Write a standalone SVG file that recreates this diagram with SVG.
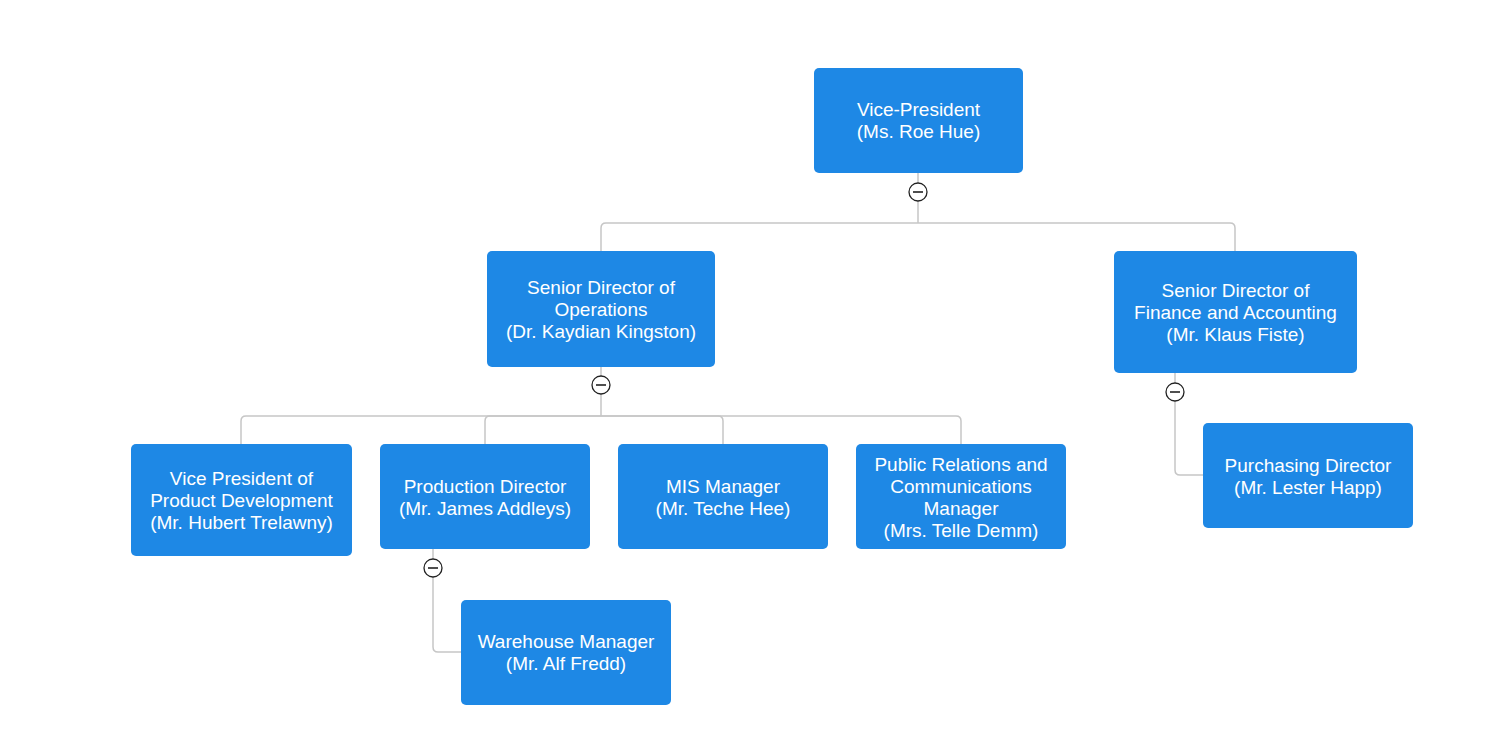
<svg xmlns="http://www.w3.org/2000/svg" width="1505" height="755" viewBox="0 0 1505 755">
<style>
.node rect{fill:#1e88e5;}
.node text{fill:#ffffff;font-family:"Liberation Sans",Arial,sans-serif;font-size:19px;text-anchor:middle;}
.conn path{fill:none;stroke:#c6c6c6;stroke-width:1.5;}
.tog circle{fill:#ffffff;stroke:#222222;stroke-width:1.3;}
.tog line{stroke:#222222;stroke-width:1.6;}
</style>
<rect width="1505" height="755" fill="#ffffff"/>
<g id="connectors" class="conn">
<path d="M918 173 V223"/>
<path d="M918 223 H606 Q601 223 601 228 V251"/>
<path d="M918 223 H1230 Q1235 223 1235 228 V251"/>
<path d="M601 367 V416"/>
<path d="M601 416 H246 Q241 416 241 421 V444"/>
<path d="M601 416 H490 Q485 416 485 421 V444"/>
<path d="M601 416 H718 Q723 416 723 421 V444"/>
<path d="M601 416 H956 Q961 416 961 421 V444"/>
<path d="M433 549 V647 Q433 652 438 652 H461"/>
<path d="M1175 373 V470 Q1175 475 1180 475 H1203"/>
</g>
<g id="toggles" class="tog">
<g><circle cx="918" cy="192" r="9"/><line x1="913" y1="192" x2="923" y2="192"/></g>
<g><circle cx="601" cy="385" r="9"/><line x1="596" y1="385" x2="606" y2="385"/></g>
<g><circle cx="433" cy="568" r="9"/><line x1="428" y1="568" x2="438" y2="568"/></g>
<g><circle cx="1175" cy="392" r="9"/><line x1="1170" y1="392" x2="1180" y2="392"/></g>
</g>
<g id="n-vp" class="node"><rect x="814" y="68" width="209" height="105" rx="5"/><text x="918.5" y="116">Vice-President</text><text x="918.5" y="138">(Ms. Roe Hue)</text></g>
<g id="n-ops" class="node"><rect x="487" y="251" width="228" height="116" rx="5"/><text x="601" y="294">Senior Director of</text><text x="601" y="316">Operations</text><text x="601" y="338">(Dr. Kaydian Kingston)</text></g>
<g id="n-fin" class="node"><rect x="1114" y="251" width="243" height="122" rx="5"/><text x="1235.5" y="297">Senior Director of</text><text x="1235.5" y="319">Finance and Accounting</text><text x="1235.5" y="341">(Mr. Klaus Fiste)</text></g>
<g id="n-vppd" class="node"><rect x="131" y="444" width="221" height="112" rx="5"/><text x="241.5" y="485">Vice President of</text><text x="241.5" y="507">Product Development</text><text x="241.5" y="529">(Mr. Hubert Trelawny)</text></g>
<g id="n-prod" class="node"><rect x="380" y="444" width="210" height="105" rx="5"/><text x="485" y="493">Production Director</text><text x="485" y="515">(Mr. James Addleys)</text></g>
<g id="n-mis" class="node"><rect x="618" y="444" width="210" height="105" rx="5"/><text x="723" y="493">MIS Manager</text><text x="723" y="515">(Mr. Teche Hee)</text></g>
<g id="n-pr" class="node"><rect x="856" y="444" width="210" height="105" rx="5"/><text x="961" y="471">Public Relations and</text><text x="961" y="493">Communications</text><text x="961" y="515">Manager</text><text x="961" y="537">(Mrs. Telle Demm)</text></g>
<g id="n-wh" class="node"><rect x="461" y="600" width="210" height="105" rx="5"/><text x="566" y="648">Warehouse Manager</text><text x="566" y="670">(Mr. Alf Fredd)</text></g>
<g id="n-pur" class="node"><rect x="1203" y="423" width="210" height="105" rx="5"/><text x="1308" y="472">Purchasing Director</text><text x="1308" y="494">(Mr. Lester Happ)</text></g>
</svg>
